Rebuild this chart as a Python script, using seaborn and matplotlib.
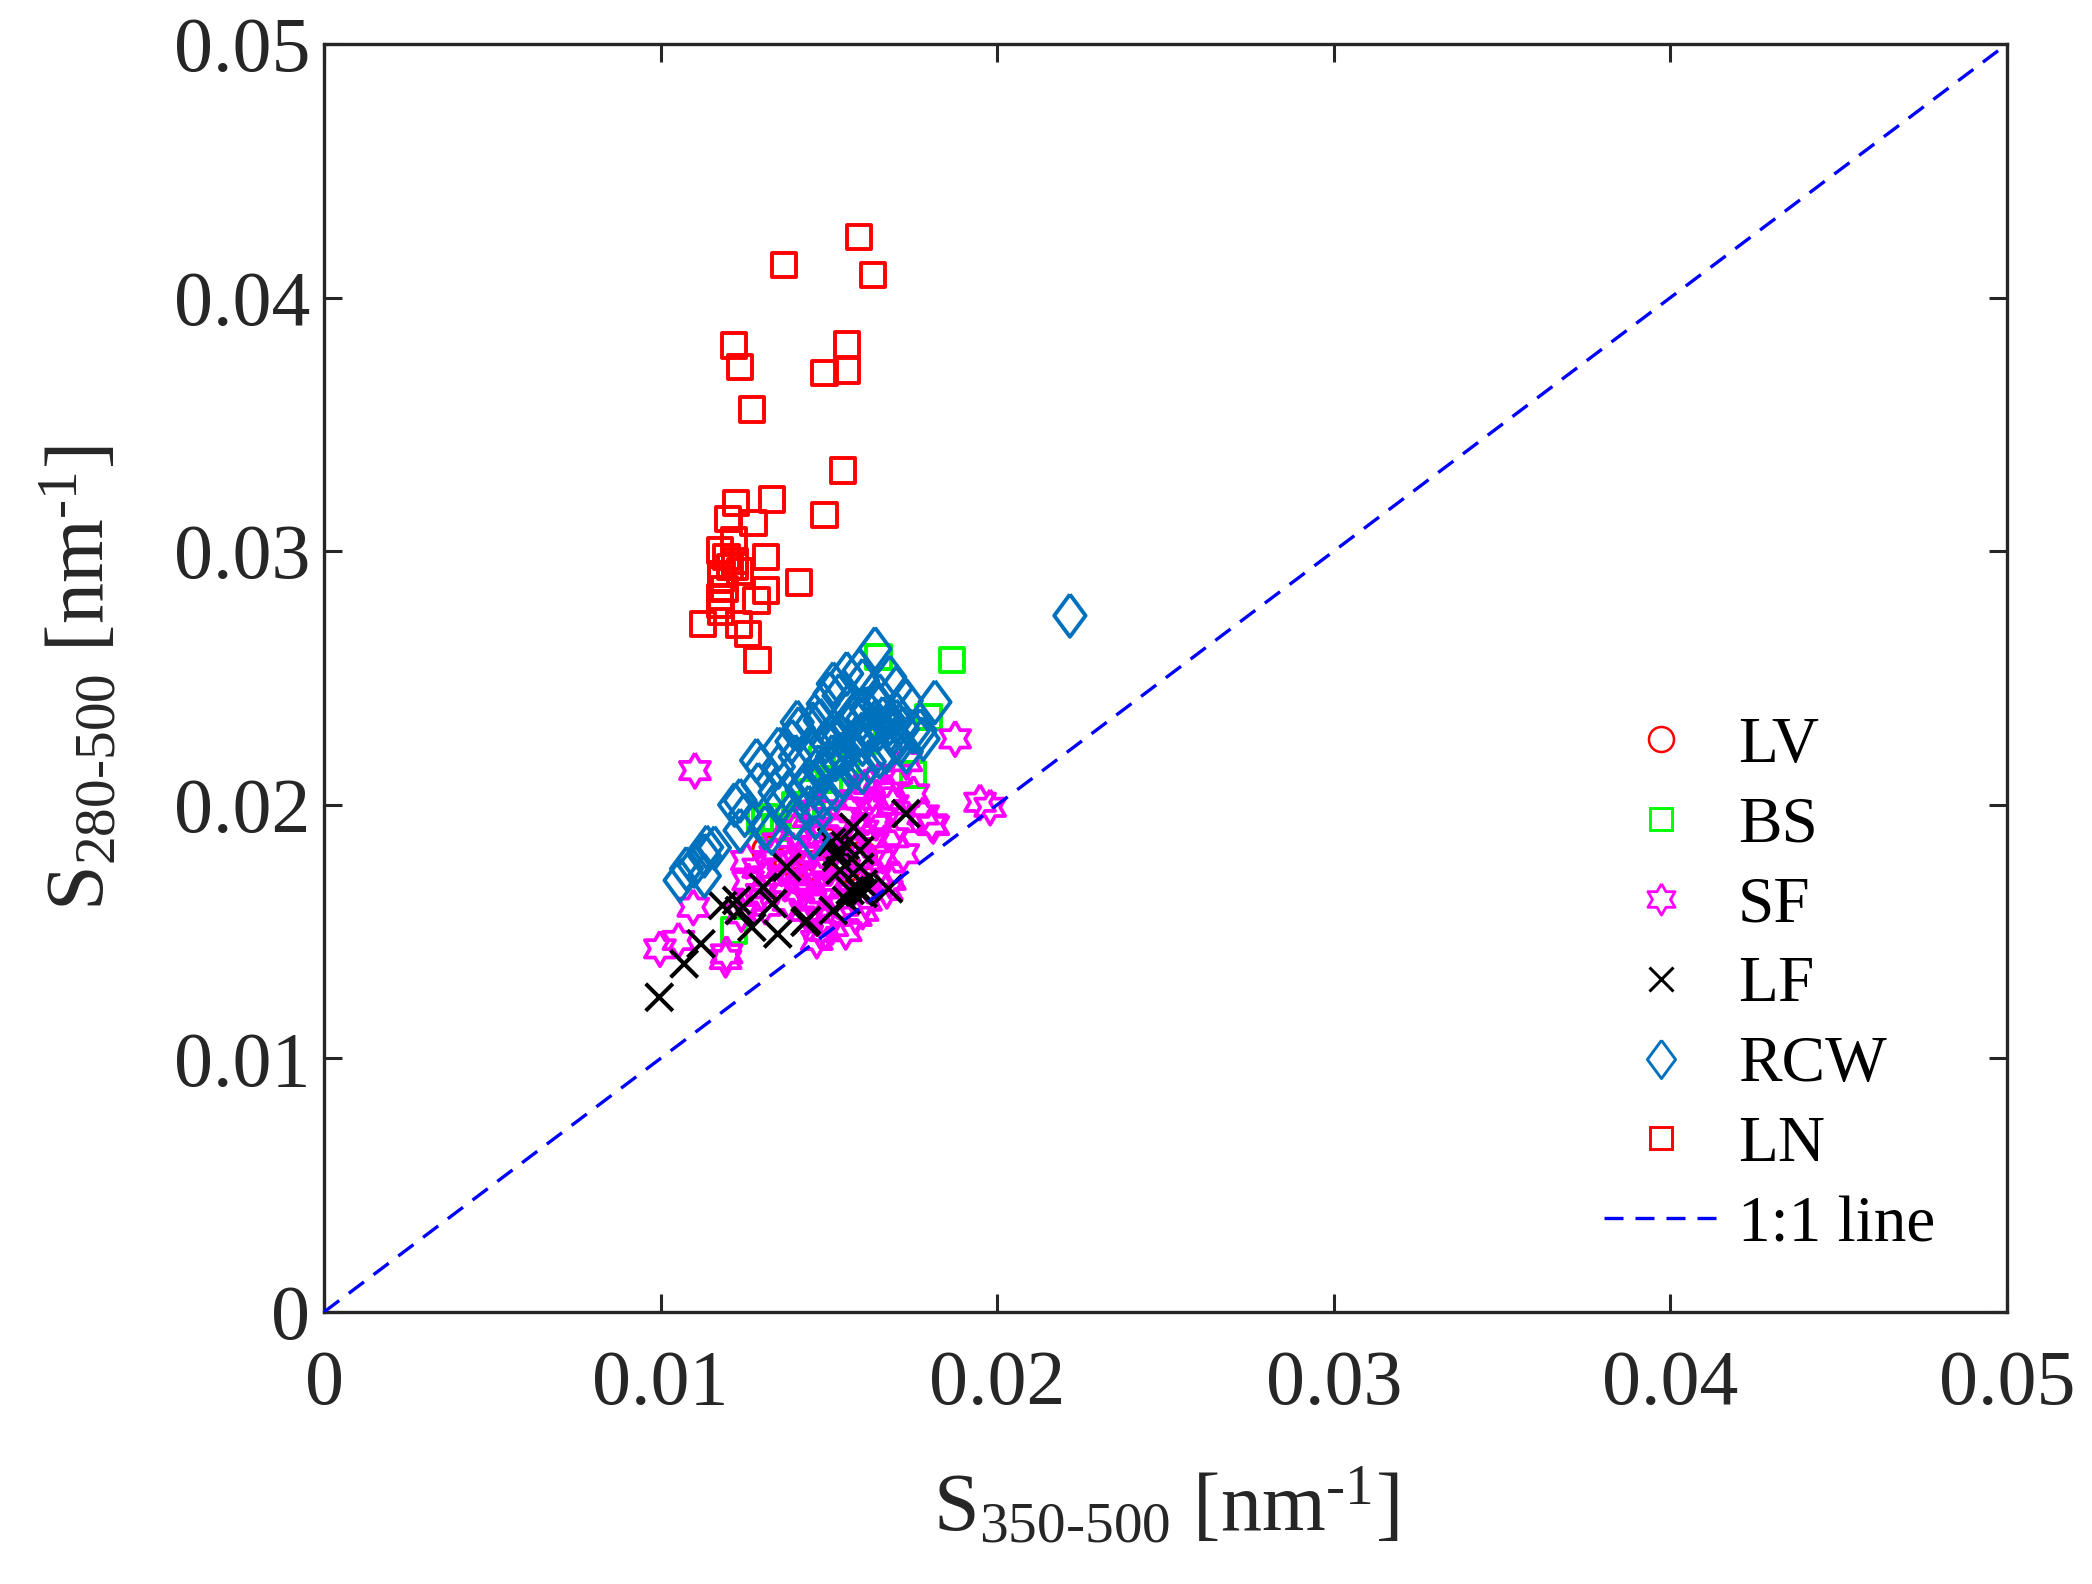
import numpy as np
import matplotlib
matplotlib.use('Agg')
import matplotlib.pyplot as plt
import seaborn as sns
from matplotlib.lines import Line2D

# ---------------- data ----------------
LN_x = [0.01589, 0.01367, 0.01630, 0.01219, 0.01553, 0.01236, 0.01487, 0.01553, 0.01272, 0.01541,
        0.01331, 0.01225, 0.01487, 0.01201, 0.01276, 0.01219, 0.01313, 0.01176, 0.01412, 0.01313,
        0.01285, 0.01176, 0.01125, 0.01233, 0.01259, 0.01288, 0.01196, 0.01206, 0.01181, 0.01180,
        0.01220, 0.01176, 0.01180, 0.01220, 0.01190, 0.01236]
LN_y = [0.04238, 0.04129, 0.04090, 0.03811, 0.03815, 0.03726, 0.03702, 0.03713, 0.03559, 0.03318,
        0.03204, 0.03190, 0.03142, 0.03128, 0.03111, 0.03042, 0.02977, 0.03003, 0.02876, 0.02845,
        0.02806, 0.02819, 0.02714, 0.02711, 0.02674, 0.02572, 0.02977, 0.02937, 0.02911, 0.02890,
        0.02960, 0.02790, 0.02760, 0.02940, 0.02850, 0.02920]

LF_x = [0.00996, 0.01070, 0.01120, 0.01184, 0.01226, 0.01234, 0.01271, 0.01305, 0.01333, 0.01348,
        0.01375, 0.01429, 0.01513, 0.01523, 0.01729, 0.01573, 0.01548, 0.01592, 0.01523, 0.01533,
        0.01592, 0.01677, 0.01583, 0.01592, 0.01552, 0.01434, 0.01602, 0.01563, 0.01602, 0.01508]
LF_y = [0.01241, 0.01373, 0.01452, 0.01603, 0.01623, 0.01583, 0.01517, 0.01675, 0.01610, 0.01491,
        0.01754, 0.01537, 0.01583, 0.01813, 0.01965, 0.01912, 0.01840, 0.01820, 0.01793, 0.01741,
        0.01754, 0.01669, 0.01675, 0.01655, 0.01623, 0.01544, 0.01688, 0.01662, 0.01650, 0.01853]

SF_x = [0.01102, 0.01875, 0.01949, 0.01979, 0.01810, 0.01780, 0.01751, 0.00998, 0.01053, 0.01097,
        0.01196, 0.01193, 0.01464, 0.01510, 0.01681, 0.01721, 0.01805, 0.01672, 0.01444, 0.01474,
        0.01490, 0.01410, 0.01660, 0.01690, 0.01710, 0.01640, 0.01690, 0.01256, 0.01260, 0.01340,
        0.01370, 0.01400, 0.01460, 0.01490, 0.01310, 0.01240, 0.01380, 0.01480, 0.01420, 0.01450,
        0.01480, 0.01500, 0.01520, 0.01540, 0.01560, 0.01580, 0.01600, 0.01620, 0.01600, 0.01630,
        0.01650, 0.01560, 0.01530, 0.01560, 0.01500, 0.01440, 0.01390, 0.01360, 0.01320, 0.01290,
        0.01350, 0.01400, 0.01440, 0.01470, 0.01650, 0.01620, 0.01680, 0.01700, 0.01730, 0.01640,
        0.01610, 0.01580, 0.01540, 0.01550, 0.01600, 0.01300, 0.01270, 0.01430, 0.01470, 0.01520,
        0.01590, 0.01620]
SF_y = [0.02135, 0.02260, 0.02010, 0.01990, 0.01918, 0.01960, 0.02043, 0.01432, 0.01465, 0.01596,
        0.01412, 0.01390, 0.01465, 0.01520, 0.01702, 0.01807, 0.01925, 0.01662, 0.01623, 0.01504,
        0.01500, 0.01660, 0.01800, 0.01870, 0.01930, 0.01930, 0.02000, 0.01780, 0.01700, 0.01800,
        0.01690, 0.01740, 0.01720, 0.01760, 0.01600, 0.01570, 0.01620, 0.01550, 0.01800, 0.01840,
        0.01880, 0.01820, 0.01900, 0.01950, 0.01980, 0.02020, 0.02060, 0.01990, 0.01900, 0.01850,
        0.01950, 0.01870, 0.01780, 0.01700, 0.01680, 0.01700, 0.01780, 0.01750, 0.01720, 0.01750,
        0.01850, 0.01900, 0.01950, 0.01980, 0.02100, 0.02080, 0.02050, 0.02120, 0.02170, 0.01720,
        0.01620, 0.01560, 0.01600, 0.01500, 0.01580, 0.01650, 0.01620, 0.01580, 0.01630, 0.01650,
        0.01760, 0.01780]

RCW_x = [0.02216, 0.01637, 0.01513, 0.01553, 0.01590, 0.01681, 0.01700, 0.01815, 0.01406, 0.01771,
         0.01780, 0.01474, 0.01483, 0.01530, 0.01600, 0.01650, 0.01700, 0.01730, 0.01750, 0.01450,
         0.01400, 0.01510, 0.01560, 0.01600, 0.01650, 0.01700, 0.01730, 0.01470, 0.01510, 0.01560,
         0.01600, 0.01650, 0.01540, 0.01350, 0.01430, 0.01480, 0.01600, 0.01503, 0.01285, 0.01236,
         0.01220, 0.01300, 0.01350, 0.01390, 0.01410, 0.01450, 0.01290, 0.01340, 0.01250, 0.01077,
         0.01058, 0.01130, 0.01137, 0.01160, 0.01100, 0.01130, 0.01236, 0.01310, 0.01330, 0.01454,
         0.01460, 0.01400, 0.01420, 0.01440, 0.01460, 0.01480, 0.01500, 0.01520, 0.01540, 0.01560,
         0.01580, 0.01600, 0.01620, 0.01640, 0.01660, 0.01680, 0.01700, 0.01720, 0.01490, 0.01530,
         0.01570, 0.01610, 0.01650, 0.01690, 0.01380, 0.01360, 0.01440, 0.01520, 0.01580, 0.01620,
         0.01670, 0.01710]
RCW_y = [0.02746, 0.02615, 0.02477, 0.02517, 0.02530, 0.02503, 0.02460, 0.02405, 0.02326, 0.02293,
         0.02260, 0.02333, 0.02398, 0.02430, 0.02490, 0.02430, 0.02360, 0.02410, 0.02290, 0.02220,
         0.02190, 0.02270, 0.02310, 0.02340, 0.02300, 0.02250, 0.02210, 0.02150, 0.02190, 0.02220,
         0.02240, 0.02190, 0.02110, 0.02150, 0.02070, 0.02030, 0.02130, 0.02438, 0.02175, 0.02017,
         0.02000, 0.02150, 0.02220, 0.02250, 0.02300, 0.02320, 0.02080, 0.02050, 0.01960, 0.01748,
         0.01702, 0.01720, 0.01833, 0.01830, 0.01760, 0.01800, 0.01899, 0.01910, 0.01890, 0.01872,
         0.01950, 0.01950, 0.02060, 0.02100, 0.02080, 0.02130, 0.02160, 0.02180, 0.02200, 0.02230,
         0.02260, 0.02280, 0.02300, 0.02330, 0.02340, 0.02320, 0.02330, 0.02300, 0.02250, 0.02280,
         0.02350, 0.02380, 0.02390, 0.02280, 0.02050, 0.02010, 0.01990, 0.02060, 0.02150, 0.02170,
         0.02210, 0.02240]

BS_x = [0.01865, 0.01647, 0.01796, 0.01219, 0.01295, 0.01340, 0.01750, 0.01500, 0.01400, 0.01550,
        0.01450, 0.01600, 0.01310, 0.01480, 0.01420]
BS_y = [0.02572, 0.02582, 0.02346, 0.01504, 0.01938, 0.01910, 0.02120, 0.02100, 0.02000, 0.02150,
        0.02050, 0.02250, 0.01950, 0.02180, 0.01960]

LV_x = [0.01315, 0.01380, 0.01450, 0.01550, 0.01600, 0.01500, 0.01420]
LV_y = [0.01820, 0.01780, 0.01760, 0.01750, 0.01800, 0.01850, 0.01700]

one_to_one = [0.0, 0.05]
ticks = [0.0, 0.01, 0.02, 0.03, 0.04, 0.05]
tick_labels = ['0', '0.01', '0.02', '0.03', '0.04', '0.05']
legend_labels = ['LV', 'BS', 'SF', 'LF', 'RCW', 'LN', '1:1 line']

# ---------------- style ----------------
sns.set_style('ticks')
plt.rcParams['font.family'] = ['Liberation Serif', 'DejaVu Serif']
plt.rcParams['mathtext.fontset'] = 'custom'
plt.rcParams['mathtext.rm'] = 'Liberation Serif'
plt.rcParams['mathtext.it'] = 'Liberation Serif:italic'
plt.rcParams['mathtext.bf'] = 'Liberation Serif:bold'

DARK = '#262626'
C_RED = (1, 0, 0)
C_GREEN = (0, 1, 0)
C_MAG = (1, 0, 1)
C_BLACK = (0, 0, 0)
C_RCW = (0, 0.447, 0.741)
C_LINE = (0, 0, 1)

ang_out = np.deg2rad(90 + 60 * np.arange(6))
ang_in = ang_out + np.deg2rad(30)
hexa = []
for a, b in zip(ang_out, ang_in):
    hexa.append((np.cos(a), np.sin(a)))
    hexa.append((np.cos(b) / np.sqrt(3), np.sin(b) / np.sqrt(3)))
hexa.append(hexa[0])
diamond = [(0, 1), (0.74, 0), (0, -1), (-0.74, 0), (0, 1)]

fig = plt.figure(figsize=(20.92, 15.84), dpi=100)
ax = fig.add_axes([0.15488, 0.17172, 0.80449, 0.80051])

groups = [
    (LV_x, LV_y, 'o', C_RED, 20.0, 2.4),
    (BS_x, BS_y, 's', C_GREEN, 17.5, 2.8),
    (SF_x, SF_y, hexa, C_MAG, 25.0, 2.7),
    (LF_x, LF_y, 'x', C_BLACK, 19.5, 2.9),
    (RCW_x, RCW_y, diamond, C_RCW, 30.5, 2.8),
    (LN_x, LN_y, 's', C_RED, 17.5, 2.8),
]
handles = []
for i, (gx, gy, mk, col, ms, lw) in enumerate(groups):
    sns.scatterplot(x=gx, y=gy, marker=mk, s=ms ** 2, linewidth=lw, ax=ax, zorder=3 + i)
    coll = ax.collections[-1]
    coll.set_facecolor('none')
    coll.set_edgecolor(col)
    coll.set_linewidth(lw)
    handles.append(Line2D([], [], linestyle='none', marker=mk, markersize=ms * 0.9,
                          markerfacecolor='none', markeredgecolor=col, markeredgewidth=lw * 0.75))

sns.lineplot(x=one_to_one, y=one_to_one, ax=ax, color=C_LINE, linewidth=2.4,
             dashes=False, zorder=10)
ln = ax.lines[-1]
ln.set_linestyle((0, (5.7, 3.6)))
handles.append(Line2D([], [], color=C_LINE, linewidth=2.4, linestyle=(0, (5.7, 3.6))))

ax.set_xlim(0, 0.05)
ax.set_ylim(0, 0.05)
ax.set_xticks(ticks)
ax.set_xticklabels(tick_labels)
ax.set_yticks(ticks)
ax.set_yticklabels(tick_labels)
ax.tick_params(axis='both', direction='in', length=13, width=2.2, colors=DARK,
               labelsize=56, top=True, right=True)
ax.tick_params(axis='x', pad=27)
ax.tick_params(axis='y', pad=10)
for sp in ax.spines.values():
    sp.set_linewidth(2.4)
    sp.set_color(DARK)
ax.grid(False)

ax.set_xlabel(r'S$_{\mathregular{350\text{-}500}}$ [nm$^{\mathregular{\text{-}1}}$]', fontsize=59, color=DARK, labelpad=34)
ax.set_ylabel(r'S$_{\mathregular{280\text{-}500}}$ [nm$^{\mathregular{\text{-}1}}$]', fontsize=59, color=DARK, labelpad=38)

leg = ax.legend(handles, legend_labels, loc='upper left', bbox_to_anchor=(0.7667, 0.548),
                bbox_transform=fig.transFigure, frameon=False, fontsize=47,
                handlelength=1.75, handletextpad=0.3, labelspacing=0.31, borderpad=0,
                borderaxespad=0)
for t in leg.get_texts():
    t.set_color('black')

fig.savefig('out.png', dpi=100)
